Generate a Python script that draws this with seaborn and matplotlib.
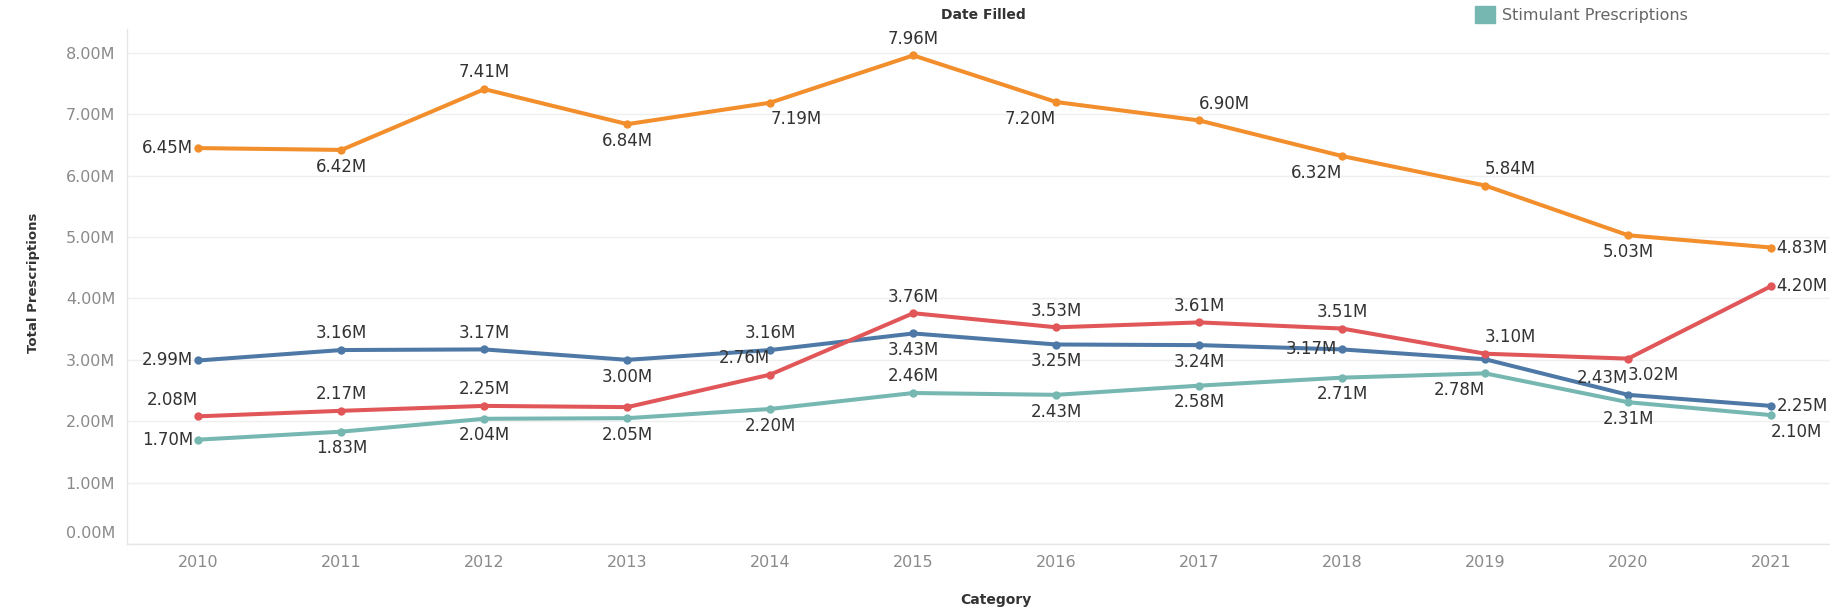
import pandas as pd
import matplotlib
matplotlib.use("Agg")
import matplotlib.pyplot as plt
import matplotlib.transforms as mtransforms
from matplotlib.patches import Patch
from matplotlib.ticker import FuncFormatter, FixedLocator
import seaborn as sns

# ---- data (millions of prescriptions) ----
years = list(range(2010, 2022))
series_orange = [6.45, 6.42, 7.41, 6.84, 7.19, 7.96, 7.20, 6.90, 6.32, 5.84, 5.03, 4.83]
series_blue = [2.99, 3.16, 3.17, 3.00, 3.16, 3.43, 3.25, 3.24, 3.17, 3.01, 2.43, 2.25]
series_red = [2.08, 2.17, 2.25, 2.23, 2.76, 3.76, 3.53, 3.61, 3.51, 3.10, 3.02, 4.20]
stimulant = [1.70, 1.83, 2.04, 2.05, 2.20, 2.46, 2.43, 2.58, 2.71, 2.78, 2.31, 2.10]
y_ticks = [0, 1, 2, 3, 4, 5, 6, 7, 8]

names = ["Series A", "Series B", "Series C", "Stimulant Prescriptions"]
values = [series_orange, series_blue, series_red, stimulant]
colors = ["#F28E2B", "#4E79A7", "#E15759", "#76B7B2"]

df = pd.DataFrame({
    "year": years * len(names),
    "value": [v for vals in values for v in vals],
    "series": [n for n in names for _ in years],
})

# where each mark label sits (a=above, b=below, l=left, r=right; al/ar etc. = above, text to left/right)
label_pos = {
    "Series A": ["l", "b", "a", "b", "br", "a", "bl", "ar", "bl", "ar", "b", "r"],
    "Series B": ["l", "a", "a", "b", "a", "b", "b", "b", "l", None, "al", "r"],
    "Series C": ["al", "a", "a", None, "al", "a", "a", "a", "a", "ar", "br", "r"],
    "Stimulant Prescriptions": ["l", "b", "b", "b", "b", "a", "b", "b", "b", "bl", "b", "br"],
}

sns.set_style("white")
plt.rcParams["font.family"] = ["DejaVu Sans"]

W, H = 1831, 613
fig = plt.figure(figsize=(W / 100, H / 100), dpi=100, facecolor="white")
# plot area in pixels: left 127, bottom 544, top 29; x range extends past right edge
ax = fig.add_axes([127 / W, (H - 544) / H, 1715.5 / W, (544 - 29) / H])

sns.lineplot(data=df, x="year", y="value", hue="series", hue_order=names,
             palette=colors, marker="o", markersize=6, markeredgewidth=0,
             linewidth=2.9, legend=False, ax=ax)

ax.set_xlim(2009.5, 2021.5)
ax.set_ylim(0, 8.39)
ax.yaxis.set_major_locator(FixedLocator(y_ticks))
ax.yaxis.set_major_formatter(FuncFormatter(lambda v, p: f"{v:.2f}M"))
ax.set_xticks(years)
ax.set_xticks([y + 0.5 for y in years[:-1]] + [2009.5], minor=True)
ax.grid(axis="y", color="#efefef", linewidth=1)
ax.grid(axis="x", visible=False)
ax.set_axisbelow(True)

for s in ["top", "right"]:
    ax.spines[s].set_visible(False)
for s in ["left", "bottom"]:
    ax.spines[s].set_color("#e6e6e6")
    ax.spines[s].set_linewidth(1)

ax.tick_params(axis="both", which="major", length=0, labelsize=11.5, labelcolor="#8a8a8a")
ax.tick_params(axis="y", pad=8.5)
ax.tick_params(axis="x", pad=8)
ax.tick_params(axis="x", which="minor", length=6, color="#e6e6e6", width=1)
ax.set_xlabel("")
ax.set_ylabel("")

# keep the 0.00M label inside the axis, as in the original
lab0 = ax.get_yticklabels()[0]
lab0.set_transform(lab0.get_transform() + mtransforms.ScaledTranslation(0, 12 / 100, fig.dpi_scale_trans))

# mark labels
dy = 12
dx = 4
for name, vals in zip(names, values):
    for yr, v, pos in zip(years, vals, label_pos[name]):
        if pos is None:
            continue
        if pos == "a":
            off, ha, va = (0, dy), "center", "center"
        elif pos == "b":
            off, ha, va = (0, -dy), "center", "center"
        elif pos == "l":
            off, ha, va = (-dx, 0), "right", "center"
        elif pos == "r":
            off, ha, va = (dx, 0), "left", "center"
        elif pos == "al":
            off, ha, va = (0, dy), "right", "center"
        elif pos == "ar":
            off, ha, va = (0, dy), "left", "center"
        elif pos == "bl":
            off, ha, va = (0, -dy), "right", "center"
        else:  # br
            off, ha, va = (0, -dy), "left", "center"
        ax.annotate(f"{v:.2f}M", (yr, v), xytext=off, textcoords="offset points",
                    ha=ha, va=va, fontsize=12, color="#333333", zorder=5)

# titles / axis labels
fig.text(983 / W, 1 - 15 / H, "Date Filled", ha="center", va="center",
         fontsize=10, fontweight="bold", color="#333333")
fig.text(996 / W, 1 - 600 / H, "Category", ha="center", va="center",
         fontsize=10, fontweight="bold", color="#333333")
fig.text(34 / W, 1 - 283 / H, "Total Prescriptions", ha="center", va="center",
         rotation=90, fontsize=9.5, fontweight="bold", color="#333333")

# legend (only the visible entry)
fig.legend(handles=[Patch(color=colors[3], label="Stimulant Prescriptions")],
           loc="upper left", bbox_to_anchor=(1475 / W, 1 - 6 / H), frameon=False,
           fontsize=11.5, handlelength=1.25, handleheight=1.25, handletextpad=0.45,
           borderpad=0, borderaxespad=0, labelcolor="#666666")

fig.savefig("out.png", dpi=100, facecolor="white")
